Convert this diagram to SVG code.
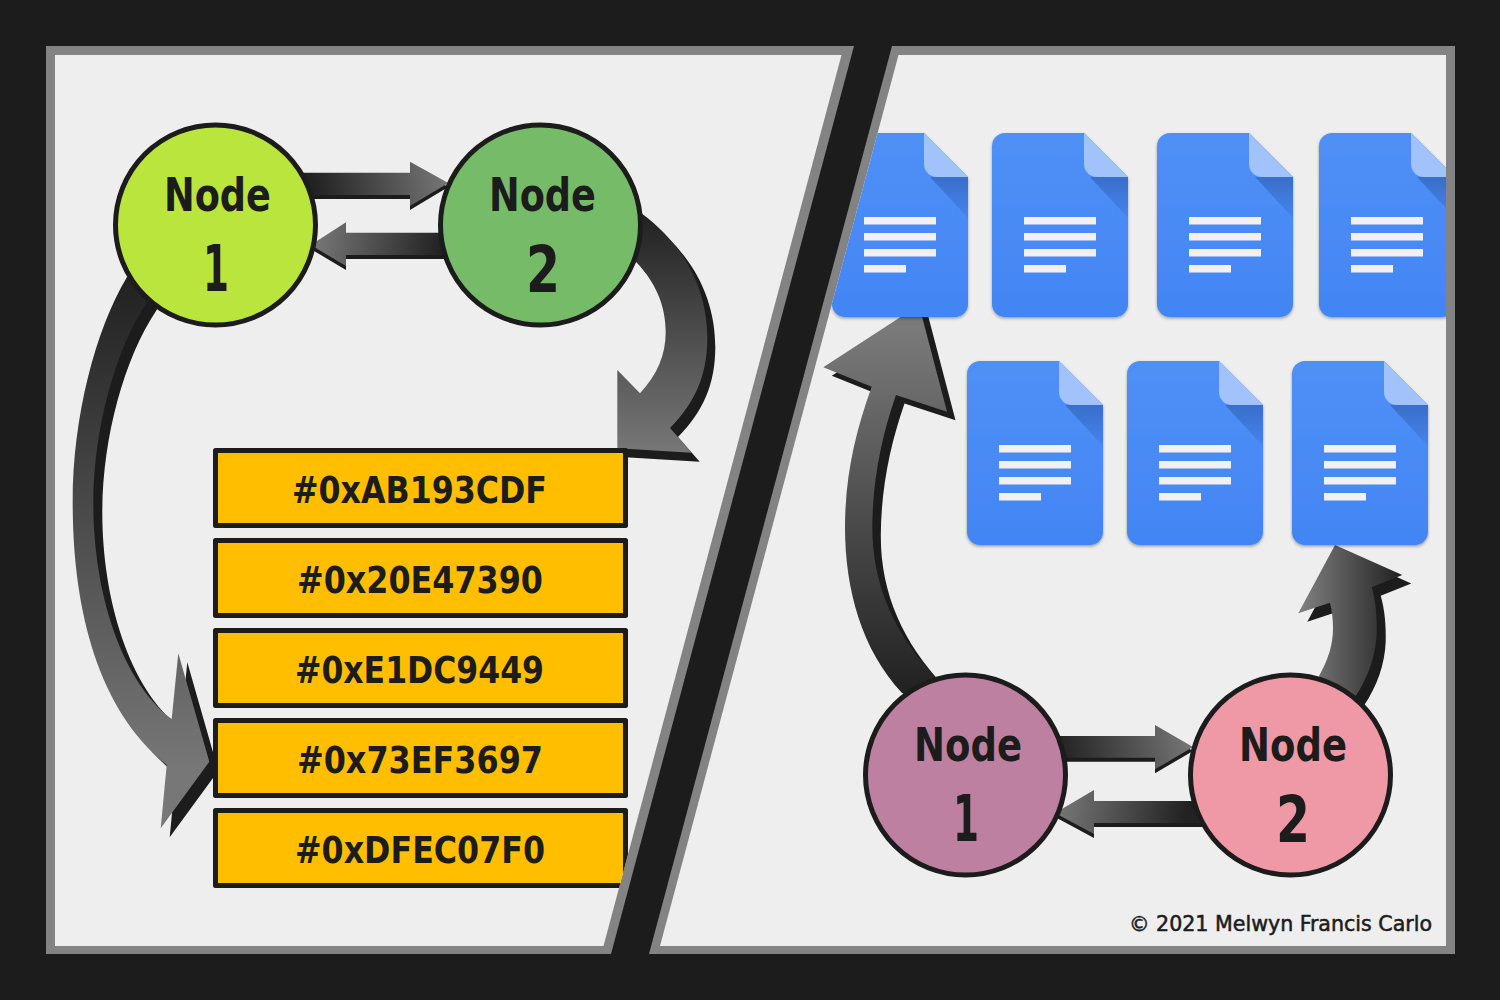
<svg xmlns="http://www.w3.org/2000/svg" width="1500" height="1000" viewBox="0 0 1500 1000">
  <style>
    .ink { fill: #1c1c1c; }
    .frame { fill: #838383; }
    .panel { fill: #eeeeee; }
    .shadow { fill: #1c1c1c; }
    .box { fill: #ffbf00; stroke: #1c1c1c; stroke-width: 5; stroke-linejoin: round; }
    .circle { stroke: #1c1c1c; stroke-width: 5; }
    text { fill: #1c1c1c; font-family: "DejaVu Sans", "Noto Sans", sans-serif; font-weight: 700; font-stretch: condensed; }
    .nodeword { font-size: 47px; }
    .nodenum { font-size: 64px; }
    .hex { font-size: 38px; }
    .credit { font-size: 21px; font-weight: 400; stroke: #1c1c1c; stroke-width: 0.5px; }
  </style>
  <defs>
    <linearGradient id="gA" gradientUnits="userSpaceOnUse" x1="315" y1="195" x2="445" y2="165"><stop offset="0" stop-color="#222222"/><stop offset="1" stop-color="#777777"/></linearGradient>
    <linearGradient id="gB" gradientUnits="userSpaceOnUse" x1="315" y1="235" x2="440" y2="255"><stop offset="0" stop-color="#777777"/><stop offset="1" stop-color="#222222"/></linearGradient>
    <linearGradient id="gC" gradientUnits="userSpaceOnUse" x1="1060" y1="758" x2="1190" y2="728"><stop offset="0" stop-color="#222222"/><stop offset="1" stop-color="#777777"/></linearGradient>
    <linearGradient id="gD" gradientUnits="userSpaceOnUse" x1="1059" y1="803" x2="1184" y2="823"><stop offset="0" stop-color="#777777"/><stop offset="1" stop-color="#222222"/></linearGradient>
    <linearGradient id="gE" gradientUnits="userSpaceOnUse" x1="0" y1="280" x2="0" y2="770"><stop offset="0" stop-color="#222222"/><stop offset="1" stop-color="#777777"/></linearGradient>
    <linearGradient id="gF" gradientUnits="userSpaceOnUse" x1="0" y1="215" x2="0" y2="452"><stop offset="0" stop-color="#222222"/><stop offset="1" stop-color="#777777"/></linearGradient>
    <linearGradient id="gG" gradientUnits="userSpaceOnUse" x1="0" y1="690" x2="0" y2="330"><stop offset="0" stop-color="#222222"/><stop offset="1" stop-color="#7a7a7a"/></linearGradient>
    <linearGradient id="gH" gradientUnits="userSpaceOnUse" x1="1300" y1="0" x2="1400" y2="0"><stop offset="0" stop-color="#808080"/><stop offset="1" stop-color="#222222"/></linearGradient>
    <linearGradient id="docFill" x1="0" y1="0" x2="0" y2="1"><stop offset="0" stop-color="#5090f6"/><stop offset="1" stop-color="#4285f4"/></linearGradient>
    <linearGradient id="foldShade" x1="0" y1="0" x2="0" y2="1"><stop offset="0" stop-color="#3a6fc9"/><stop offset="1" stop-color="#4484ee"/></linearGradient>
    <filter id="docShadow" x="-10%" y="-10%" width="120%" height="120%"><feDropShadow dx="0" dy="1.5" stdDeviation="1.5" flood-color="#000000" flood-opacity="0.35"/></filter>
    <clipPath id="clipLeft"><polygon points="55,55 841.5,55 603.5,946 55,946"/></clipPath>
    <clipPath id="clipRight"><polygon points="898.5,55 1446,55 1446,946 660,946"/></clipPath>
    <g id="doc">
      <path d="M13 0H92L136 44V171a13 13 0 0 1-13 13H13a13 13 0 0 1-13-13V13a13 13 0 0 1 13-13Z" fill="url(#docFill)" filter="url(#docShadow)"/>
      <polygon points="98,44 136,44 136,85" fill="url(#foldShade)"/>
      <path d="M92 0L136 44H105a13 13 0 0 1-13-13Z" fill="#a1c2fa"/>
      <rect x="32" y="84" width="72" height="7.5" fill="#f1f1f1"/>
      <rect x="32" y="100" width="72" height="7.5" fill="#f1f1f1"/>
      <rect x="32" y="116" width="72" height="7.5" fill="#f1f1f1"/>
      <rect x="32" y="132" width="42" height="7.5" fill="#f1f1f1"/>
    </g>
  </defs>

  <rect width="1500" height="1000" class="ink"/>

  <g id="frame">
    <polygon class="frame" points="46,46 854,46 611,954 46,954"/>
    <polygon class="panel" points="55,55 841.5,55 603.5,946 55,946"/>
    <polygon class="frame" points="892,46 1455,46 1455,954 649,954"/>
    <polygon class="panel" points="898.5,55 1446,55 1446,946 660,946"/>
  </g>

  <g id="connectors">
    <g id="edge-n1-n2-left">
      <path class="shadow" transform="translate(0 4)" d="M300 172.7H410V161.7L448.3 183L410 206V195H300Z"/>
      <path fill="url(#gA)" d="M300 172.7H410V161.7L448.3 183L410 206V195H300Z"/>
    </g>
    <g id="edge-n2-n1-left">
      <path class="shadow" transform="translate(0 4)" d="M450 232.7H346V222.3L310.7 245L346 266V255H450Z"/>
      <path fill="url(#gB)" d="M450 232.7H346V222.3L310.7 245L346 266V255H450Z"/>
    </g>
    <g id="edge-n1-box4">
      <path class="shadow" transform="translate(9 9)" d="M127 277C95 330 72 420 72.7 505C73 610 98 710 166.7 765L160.7 828.3L209.3 761.7L178.3 653.3L171.7 719C120 680 93.6 590 93.3 505C93 430 115 350 147 302L165 270Z"/>
      <path fill="url(#gE)" d="M127 277C95 330 72 420 72.7 505C73 610 98 710 166.7 765L160.7 828.3L209.3 761.7L178.3 653.3L171.7 719C120 680 93.6 590 93.3 505C93 430 115 350 147 302L165 270Z"/>
    </g>
    <g id="edge-n2-box1">
      <path class="shadow" transform="translate(8 9)" d="M641 213C685 245 707.3 290 707.3 338C707.3 375 695 403 670 428L691.7 452.7L617.3 448.3V370L640 393.3C657 375 665.7 355 665.7 332C665.7 305 655 282 637 263L620 240Z"/>
      <path fill="url(#gF)" d="M641 213C685 245 707.3 290 707.3 338C707.3 375 695 403 670 428L691.7 452.7L617.3 448.3V370L640 393.3C657 375 665.7 355 665.7 332C665.7 305 655 282 637 263L620 240Z"/>
    </g>
    <g id="edge-n3-n4-right">
      <path class="shadow" transform="translate(0 4)" d="M1050 736H1155V725L1193 747L1155 769.3V757.7H1050Z"/>
      <path fill="url(#gC)" d="M1050 736H1155V725L1193 747L1155 769.3V757.7H1050Z"/>
    </g>
    <g id="edge-n4-n3-right">
      <path class="shadow" transform="translate(0 4)" d="M1210 801H1094V790L1055 813L1094 834V823H1210Z"/>
      <path fill="url(#gD)" d="M1210 801H1094V790L1055 813L1094 834V823H1210Z"/>
    </g>
    <g id="edge-n3-doc1">
      <path class="shadow" transform="translate(8.5 8.5)" d="M902 693C862 650 845 590 845 527C845 475 856 430 871.7 386.7L823.3 367.3L919 305L947 411.7L896 395C882 435 872.5 480 872.3 527C872 585 895 635 935 677L920 700Z"/>
      <path fill="url(#gG)" d="M902 693C862 650 845 590 845 527C845 475 856 430 871.7 386.7L823.3 367.3L919 305L947 411.7L896 395C882 435 872.5 480 872.3 527C872 585 895 635 935 677L920 700Z"/>
    </g>
    <g id="edge-n4-doc7">
      <path class="shadow" transform="translate(9 8.5)" d="M1335 545L1402.3 575L1371.7 587.3C1376 602 1377 618 1376.7 633C1376 655 1368 678 1355 697L1340 705L1319 676C1328 660 1333 645 1333 628C1333 620 1332 611 1330 602.7L1298.3 613.3Z"/>
      <path fill="url(#gH)" d="M1335 545L1402.3 575L1371.7 587.3C1376 602 1377 618 1376.7 633C1376 655 1368 678 1355 697L1340 705L1319 676C1328 660 1333 645 1333 628C1333 620 1332 611 1330 602.7L1298.3 613.3Z"/>
    </g>
  </g>

  <g clip-path="url(#clipRight)">
    <g id="doc-1"><use href="#doc" x="832" y="133"/></g>
    <g id="doc-2"><use href="#doc" x="992" y="133"/></g>
    <g id="doc-3"><use href="#doc" x="1157" y="133"/></g>
    <g id="doc-4"><use href="#doc" x="1319" y="133"/></g>
    <g id="doc-5"><use href="#doc" x="967" y="361"/></g>
    <g id="doc-6"><use href="#doc" x="1127" y="361"/></g>
    <g id="doc-7"><use href="#doc" x="1292" y="361"/></g>
  </g>

  <g clip-path="url(#clipLeft)">
    <g id="box-1"><rect class="box" x="215.500" y="450.500" width="410" height="75"/><text class="hex" x="292" y="503" textLength="255" lengthAdjust="spacingAndGlyphs">#0xAB193CDF</text></g>
    <g id="box-2"><rect class="box" x="215.500" y="540.500" width="410" height="75"/><text class="hex" x="297" y="593" textLength="246" lengthAdjust="spacingAndGlyphs">#0x20E47390</text></g>
    <g id="box-3"><rect class="box" x="215.500" y="630.500" width="410" height="75"/><text class="hex" x="295" y="683" textLength="249" lengthAdjust="spacingAndGlyphs">#0xE1DC9449</text></g>
    <g id="box-4"><rect class="box" x="215.500" y="720.500" width="410" height="75"/><text class="hex" x="297" y="773" textLength="246" lengthAdjust="spacingAndGlyphs">#0x73EF3697</text></g>
    <g id="box-5"><rect class="box" x="215.500" y="810.500" width="410" height="75"/><text class="hex" x="295" y="863" textLength="250" lengthAdjust="spacingAndGlyphs">#0xDFEC07F0</text></g>
  </g>

  <g id="node-left-1">
    <circle class="circle" cx="215.500" cy="225" r="100" fill="#bae53c"/>
    <text class="nodeword" x="164" y="211" textLength="107" lengthAdjust="spacingAndGlyphs">Node</text>
    <text class="nodenum" x="203" y="291" textLength="26" lengthAdjust="spacingAndGlyphs">1</text>
  </g>
  <g id="node-left-2">
    <circle class="circle" cx="540.500" cy="225" r="100" fill="#76bc68"/>
    <text class="nodeword" x="489" y="211" textLength="107" lengthAdjust="spacingAndGlyphs">Node</text>
    <text class="nodenum" x="526" y="292" textLength="34" lengthAdjust="spacingAndGlyphs">2</text>
  </g>
  <g id="node-right-1">
    <circle class="circle" cx="965.500" cy="775" r="100" fill="#be80a0"/>
    <text class="nodeword" x="914" y="761" textLength="108" lengthAdjust="spacingAndGlyphs">Node</text>
    <text class="nodenum" x="953" y="841" textLength="26" lengthAdjust="spacingAndGlyphs">1</text>
  </g>
  <g id="node-right-2">
    <circle class="circle" cx="1290.500" cy="775" r="100" fill="#ee99a5"/>
    <text class="nodeword" x="1239" y="761" textLength="108" lengthAdjust="spacingAndGlyphs">Node</text>
    <text class="nodenum" x="1276" y="842" textLength="34" lengthAdjust="spacingAndGlyphs">2</text>
  </g>

  <text class="credit" x="1129" y="931" textLength="303" lengthAdjust="spacingAndGlyphs">© 2021 Melwyn Francis Carlo</text>
</svg>
